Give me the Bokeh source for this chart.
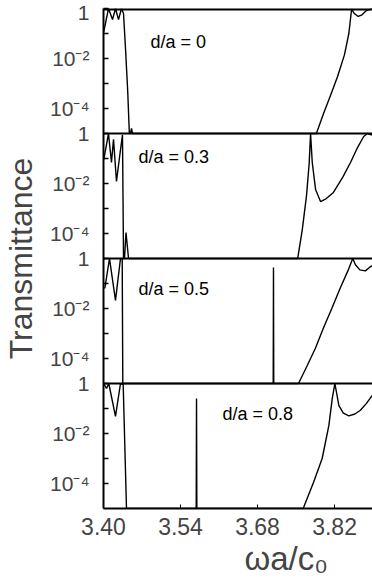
from bokeh.plotting import figure
from bokeh.models import (Range1d, LogScale, FixedTicker, CustomJSTickFormatter,
                          NumeralTickFormatter, Span, Title)
from bokeh.core.properties import value
from bokeh.embed import file_html
from bokeh.resources import INLINE

# ---------------- data ----------------
PANEL_LABELS = ["d/a = 0", "d/a = 0.3", "d/a = 0.5", "d/a = 0.8"]

X_0 = [3.4005, 3.4091, 3.4164, 3.4218, 3.4273, 3.4327, 3.4364, 3.4400, 3.4440,
       3.4470, 3.4490, 3.4509, 3.4527, 3.7870, 3.8000, 3.8130, 3.8255, 3.8380,
       3.8460, 3.8510, 3.8560, 3.8630, 3.8700, 3.8780, 3.8890]
T_0 = [0.12, 1.0, 0.36, 1.0, 0.36, 1.0, 0.63, 0.025, 5e-4,
       1e-5, 1e-5, 1.6e-5, 1e-5, 1e-5, 6.3e-5, 3.5e-4, 1.9e-3, 0.014,
       0.1, 0.95, 0.63, 0.48, 0.56, 0.83, 1.0]

X_03 = [3.4005, 3.4091, 3.4145, 3.4182, 3.4236, 3.4291, 3.4345, 3.4364, 3.4382,
        3.4409, 3.4455, 3.7530, 3.7613, 3.7690, 3.7740, 3.7764, 3.7795, 3.7855,
        3.7945, 3.8050, 3.8180, 3.8350, 3.8490, 3.8620, 3.8730, 3.8800, 3.8890]
T_03 = [0.091, 1.0, 0.069, 0.58, 0.012, 0.11, 0.89, 1e-5, 1e-5,
        1.1e-4, 1e-5, 1e-5, 1.4e-4, 3.2e-3, 0.069, 1.0, 0.069, 5.8e-3,
        1.9e-3, 2.5e-3, 4.4e-3, 0.018, 0.069, 0.28, 0.76, 1.0, 0.85]

X_05 = [3.4024, 3.4109, 3.4218, 3.4309, 3.4340, 3.4351, 3.7085, 3.7090, 3.7095,
        3.7545, 3.7700, 3.7850, 3.8000, 3.8150, 3.8300, 3.8450, 3.8530, 3.8580,
        3.8660, 3.8760, 3.8840, 3.8890]
T_05 = [0.063, 1.0, 0.021, 1.0, 0.95, 1e-5, 1e-5, 0.44, 1e-5,
        1e-5, 5e-5, 2.5e-4, 1.7e-3, 0.01, 0.063, 0.35, 1.0, 0.56,
        0.35, 0.32, 0.45, 0.52]

X_08 = [3.4005, 3.4055, 3.4096, 3.4218, 3.4309, 3.4358, 3.4418, 3.5685, 3.5691,
        3.5697, 3.7630, 3.7824, 3.7975, 3.8097, 3.8158, 3.8206, 3.8279, 3.8360,
        3.8460, 3.8570, 3.8670, 3.8780, 3.8890]
T_08 = [1.0, 0.63, 1.0, 0.048, 1.0, 0.9, 1e-5, 1e-5, 0.25,
        1e-5, 1e-5, 1.2e-4, 1e-3, 0.021, 0.25, 1.0, 0.13, 0.065,
        0.051, 0.06, 0.085, 0.16, 0.34]

SERIES_X = [X_0, X_03, X_05, X_08]
SERIES_T = [T_0, T_03, T_05, T_08]

X_TICKS = [3.40, 3.54, 3.68, 3.82]
Y_TICK_LABELS = ["1", "", "10\u207b\u00b2", "", "10\u207b\u2074"]  # per decade inside a panel
DECADES_PER_PANEL = 5

# ---------------- layout / style ----------------
LABEL_POS_X = [3.4855, 3.4636, 3.4636, 3.6164]
LABEL_POS_T = [0.044, 0.11, 0.063, 0.063]

FONT = "Liberation Sans"
n_panels = len(PANEL_LABELS)
total_dec = DECADES_PER_PANEL * n_panels

p = figure(width=372, height=588,
           x_range=Range1d(3.40, 3.889),
           y_range=Range1d(10.0 ** (-total_dec), 1.0),
           y_axis_type="log",
           output_backend="svg", toolbar_location=None,
           min_border_left=103, min_border_right=0,
           min_border_top=8, min_border_bottom=80)

p.outline_line_color = None
p.grid.visible = False
p.background_fill_color = "white"
p.border_fill_color = "white"

names = []
for k in range(n_panels):
    name = f"panel{k}"
    names.append(name)
    p.extra_y_ranges[name] = Range1d(10.0 ** (DECADES_PER_PANEL * k - total_dec),
                                     10.0 ** (DECADES_PER_PANEL * k))
    p.extra_y_scales[name] = LogScale()

for k in range(n_panels):
    p.line(SERIES_X[k], SERIES_T[k], y_range_name=names[k],
           line_color="black", line_width=1.4)
    p.text(x=[LABEL_POS_X[k]], y=[LABEL_POS_T[k]], text=[PANEL_LABELS[k]],
           y_range_name=names[k], text_font=value(FONT), text_font_size="18px",
           text_color="black", text_align="left", text_baseline="middle")

# panel borders (the top one is half clipped by the frame, so draw it thicker)
for k in range(n_panels):
    p.add_layout(Span(location=10.0 ** (-DECADES_PER_PANEL * k), dimension="width",
                      line_color="black", line_width=4 if k == 0 else 2))

# y axis
yax = p.yaxis[0]
yax.ticker = FixedTicker(ticks=[10.0 ** (-e) for e in range(0, total_dec)], minor_ticks=[])
yax.formatter = CustomJSTickFormatter(args=dict(labels=Y_TICK_LABELS, n=DECADES_PER_PANEL), code="""
    const e = Math.round(-Math.log10(tick));
    return labels[((e % n) + n) % n];
""")
yax.major_tick_in = 5
yax.major_tick_out = 0
yax.minor_tick_line_color = None
yax.axis_line_width = 2
yax.major_tick_line_width = 1.5
yax.major_label_text_font = FONT
yax.major_label_text_font_size = "21px"
yax.major_label_standoff = 14
yax.axis_label = "Transmittance"
yax.axis_label_text_font = FONT
yax.axis_label_text_font_size = "32px"
yax.axis_label_text_font_style = "normal"
yax.axis_label_standoff = 8

# x axis
xax = p.xaxis[0]
xax.ticker = FixedTicker(ticks=X_TICKS, minor_ticks=[])
xax.formatter = NumeralTickFormatter(format="0.00")
xax.major_tick_in = 4
xax.major_tick_out = 0
xax.minor_tick_line_color = None
xax.axis_line_width = 2
xax.major_label_text_font = FONT
xax.major_label_text_font_size = "23px"
xax.major_label_standoff = 9

p.add_layout(Title(text="\u03c9a/c\u2080", align="left", offset=141,
                   text_font=FONT, text_font_size="33px", text_font_style="normal",
                   standoff=0), "below")

open("out.html", "w").write(file_html(p, INLINE))
